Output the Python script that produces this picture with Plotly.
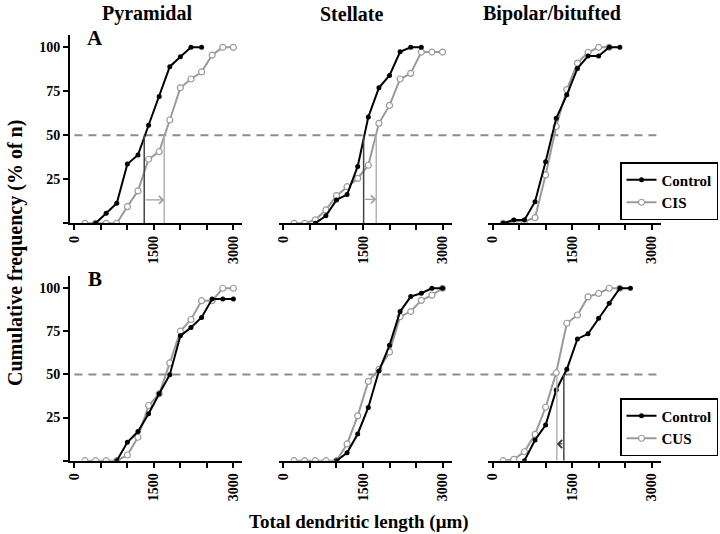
import plotly.graph_objects as go

# ---------------- data ----------------
col_titles = ["Pyramidal", "Stellate", "Bipolar/bitufted"]
row_labels = ["A", "B"]
legend_names_A = ["Control", "CIS"]
legend_names_B = ["Control", "CUS"]

# Panel A (Control vs CIS)
A_pyr_ctrl_x = [400, 600, 800, 1000, 1200, 1400, 1600, 1800, 2000, 2200, 2400]
A_pyr_ctrl_y = [0, 5.7, 11.4, 33.7, 38.8, 55.7, 72, 89, 94.7, 100, 100]
A_pyr_cis_x = [200, 400, 600, 800, 1000, 1200, 1400, 1600, 1800, 2000, 2200, 2400, 2600, 2800, 3000]
A_pyr_cis_y = [0, 0, 0, 0, 9.5, 18.4, 36.4, 40.7, 58.7, 77, 82, 86, 95.6, 100, 100]

A_ste_ctrl_x = [600, 800, 1000, 1200, 1400, 1600, 1800, 2000, 2200, 2400, 2600]
A_ste_ctrl_y = [0, 4.3, 13.3, 16.3, 32.3, 60.4, 77, 84, 97.5, 100, 100]
A_ste_cis_x = [200, 400, 600, 800, 1000, 1200, 1400, 1600, 1800, 2000, 2200, 2400, 2600, 2800, 3000]
A_ste_cis_y = [0, 0, 2, 7.6, 15.7, 20.8, 25.5, 33, 56.8, 67, 82, 85.2, 97.3, 97.3, 97.3]

A_bip_ctrl_x = [200, 400, 600, 800, 1000, 1200, 1400, 1600, 1800, 2000, 2200, 2400]
A_bip_ctrl_y = [0, 1.9, 1.9, 12.3, 35, 59.7, 73, 88, 95, 95, 100, 100]
A_bip_cis_x = [200, 400, 600, 800, 1000, 1200, 1400, 1600, 1800, 2000, 2200]
A_bip_cis_y = [0, 1.1, 1.1, 3.2, 27.5, 55, 76, 91, 97.2, 100, 100]

# Panel B (Control vs CUS)
B_pyr_ctrl_x = [800, 1000, 1200, 1400, 1600, 1800, 2000, 2200, 2400, 2600, 2800, 3000]
B_pyr_ctrl_y = [0, 10.7, 16.9, 27.2, 38.8, 49.9, 72.4, 77.3, 83.1, 93.8, 93.8, 93.8]
B_pyr_cus_x = [200, 400, 600, 800, 1000, 1200, 1400, 1600, 1800, 2000, 2200, 2400, 2600, 2800, 3000]
B_pyr_cus_y = [0, 0, 0, 0, 3.3, 13.6, 32, 38.8, 56.7, 75.1, 81.9, 92.8, 92.8, 100, 100]

B_ste_ctrl_x = [1000, 1200, 1400, 1600, 1800, 2000, 2200, 2400, 2600, 2800, 3000]
B_ste_ctrl_y = [0, 4.6, 15.5, 30.9, 52, 66.9, 86.5, 95.2, 97.1, 100, 100]
B_ste_cus_x = [200, 400, 600, 800, 1000, 1200, 1400, 1600, 1800, 2000, 2200, 2400, 2600, 2800, 3000]
B_ste_cus_y = [0, 0, 0, 0, 0, 9.7, 26, 46, 53, 63, 83.5, 86.5, 93, 96, 100]

B_bip_ctrl_x = [600, 800, 1000, 1200, 1400, 1600, 1800, 2000, 2200, 2400, 2600]
B_bip_ctrl_y = [0, 12, 20.7, 41, 53, 70.6, 73.6, 82.6, 91.3, 100, 100]
B_bip_cus_x = [200, 400, 600, 800, 1000, 1200, 1400, 1600, 1800, 2000, 2200, 2400]
B_bip_cus_y = [0, 0.8, 5.2, 15.3, 31, 51, 79.7, 84.5, 95, 97, 100, 100]

# median markers (x of 50% crossing) and arrow heights
median_panels = ["A_pyr", "A_ste", "B_bip"]
median_ctrl = [1318, 1512, 1344]
median_trt = [1695, 1750, 1212]
arrow_y = [13.3, 13.6, 9.7]

x_tickvals = [0, 500, 1000, 1500, 2000, 2500, 3000]
x_ticktext = ["0", "", "", "1500", "", "", "3000"]
y_tickvals = [0, 25, 50, 75, 100]
y_ticktext = ["", "25", "50", "75", "100"]
half_level = 50

# ---------------- figure ----------------
W, H = 720, 534
FONT = "Liberation Serif"
BLACK = "#000000"
GRAY = "#9a9a9a"

fig = go.Figure()

# axes geometry (pixels)
col_x = [(67.4, 240.4), (277.4, 450.4), (487.4, 660.4)]
row_y = [(35.0, 223.3), (276.2, 460.7)]  # top, bottom px
XR = [-80, 3170]
YR = [0, 107]

panels = [
    ("A", 0, 0, A_pyr_ctrl_x, A_pyr_ctrl_y, A_pyr_cis_x, A_pyr_cis_y),
    ("A", 0, 1, A_ste_ctrl_x, A_ste_ctrl_y, A_ste_cis_x, A_ste_cis_y),
    ("A", 0, 2, A_bip_ctrl_x, A_bip_ctrl_y, A_bip_cis_x, A_bip_cis_y),
    ("B", 1, 0, B_pyr_ctrl_x, B_pyr_ctrl_y, B_pyr_cus_x, B_pyr_cus_y),
    ("B", 1, 1, B_ste_ctrl_x, B_ste_ctrl_y, B_ste_cus_x, B_ste_cus_y),
    ("B", 1, 2, B_bip_ctrl_x, B_bip_ctrl_y, B_bip_cus_x, B_bip_cus_y),
]
panel_keys = ["A_pyr", "A_ste", "A_bip", "B_pyr", "B_ste", "B_bip"]

layout = dict(
    width=W, height=H,
    margin=dict(l=0, r=0, t=0, b=0),
    paper_bgcolor="white", plot_bgcolor="white",
    font=dict(family=FONT, color="black"),
    shapes=[], annotations=[],
)

for i, (row_name, r, c, cx, cy, tx, ty) in enumerate(panels):
    n = i + 1
    xa = "x" if n == 1 else f"x{n}"
    ya = "y" if n == 1 else f"y{n}"
    xkey = "xaxis" if n == 1 else f"xaxis{n}"
    ykey = "yaxis" if n == 1 else f"yaxis{n}"
    x0, x1 = col_x[c]
    yt, yb = row_y[r]
    layout[xkey] = dict(
        domain=[x0 / W, x1 / W], anchor=ya, range=XR,
        showgrid=False, zeroline=False, showline=True, linecolor="black", linewidth=2,
        ticks="outside", ticklen=5, tickwidth=1.5, tickcolor="black",
        tickvals=x_tickvals, ticktext=x_ticktext, tickangle=-90,
        tickfont=dict(family=FONT, size=14, color="black", weight="bold"),
    )
    if c == 0:
        layout[ykey] = dict(
            domain=[1 - yb / H, 1 - yt / H], anchor=xa, range=YR,
            showgrid=False, zeroline=False, showline=True, linecolor="black", linewidth=2,
            ticks="outside", ticklen=5, tickwidth=1.5, tickcolor="black",
            tickvals=y_tickvals, ticktext=y_ticktext,
            tickfont=dict(family=FONT, size=14, color="black", weight="bold"),
        )
    else:
        layout[ykey] = dict(
            domain=[1 - yb / H, 1 - yt / H], anchor=xa, range=YR,
            showgrid=False, zeroline=False, showline=False, showticklabels=False, ticks="",
        )

    leg = "legend" if row_name == "A" else "legend2"
    names = legend_names_A if row_name == "A" else legend_names_B
    show = (c == 0)

    # treatment (gray, open)
    fig.add_trace(go.Scatter(
        x=tx, y=ty, xaxis=xa, yaxis=ya, mode="lines+markers", name=names[1],
        line=dict(color=GRAY, width=2),
        marker=dict(symbol="circle", size=6, color="white", line=dict(color=GRAY, width=1.2)),
        showlegend=show, legend=leg, legendrank=2,
    ))
    # control (black, filled)
    fig.add_trace(go.Scatter(
        x=cx, y=cy, xaxis=xa, yaxis=ya, mode="lines+markers", name=names[0],
        line=dict(color=BLACK, width=2),
        marker=dict(symbol="circle", size=5, color=BLACK),
        showlegend=show, legend=leg, legendrank=1,
    ))

    key = panel_keys[i]
    if key in median_panels:
        k = median_panels.index(key)
        fig.add_trace(go.Scatter(
            x=[median_ctrl[k], median_ctrl[k]], y=[0, half_level], xaxis=xa, yaxis=ya,
            mode="lines", line=dict(color="#444444", width=1.5), showlegend=False, hoverinfo="skip",
        ))
        fig.add_trace(go.Scatter(
            x=[median_trt[k], median_trt[k]], y=[0, half_level], xaxis=xa, yaxis=ya,
            mode="lines", line=dict(color="#b4b4b4", width=1.5), showlegend=False, hoverinfo="skip",
        ))
        layout["annotations"].append(dict(
            x=median_trt[k], y=arrow_y[k], ax=median_ctrl[k], ay=arrow_y[k],
            xref=xa, yref=ya, axref=xa, ayref=ya, text="", showarrow=True,
            arrowhead=4, arrowsize=1.2, arrowwidth=1.3,
            arrowcolor="#a0a0a0" if key != "B_bip" else "#333333",
        ))

# dashed 50% lines across each row
for r, ya in enumerate(["y", "y4"]):
    layout["shapes"].append(dict(
        type="line", xref="paper", yref=ya, x0=71.7 / W, x1=660 / W, y0=half_level, y1=half_level,
        line=dict(color="#8c8c8c", width=2, dash="8px,6px"), layer="below",
    ))

# column titles
for t, cxp in zip(col_titles, [145, 350, 551]):
    layout["annotations"].append(dict(
        text=t, x=cxp / W, y=1 - 14 / H, xref="paper", yref="paper", showarrow=False,
        font=dict(family=FONT, size=20, color="black", weight="bold"),
        xanchor="center", yanchor="middle",
    ))

# row labels
for t, yp in zip(row_labels, [38, 279]):
    layout["annotations"].append(dict(
        text=t, x=92 / W, y=1 - yp / H, xref="paper", yref="paper", showarrow=False,
        font=dict(family=FONT, size=21, color="black", weight="bold"),
        xanchor="center", yanchor="middle",
    ))

# axis titles
layout["annotations"].append(dict(
    text="Total dendritic length (μm)", x=357 / W, y=1 - 522 / H, xref="paper", yref="paper",
    showarrow=False, font=dict(family=FONT, size=19, color="black", weight="bold"),
    xanchor="center", yanchor="middle",
))
layout["annotations"].append(dict(
    text="Cumulative frequency (% of n)", x=13 / W, y=1 - 253 / H, xref="paper", yref="paper",
    showarrow=False, textangle=-90, font=dict(family=FONT, size=20, color="black", weight="bold"),
    xanchor="center", yanchor="middle",
))

legend_style = dict(
    xanchor="right", yanchor="top", bgcolor="white", bordercolor="black", borderwidth=1.5,
    font=dict(family=FONT, size=15, color="black", weight="bold"),
    itemwidth=30, tracegroupgap=0,
)
layout["legend"] = dict(x=718 / W, y=1 - 162 / H, **legend_style)
layout["legend2"] = dict(x=718 / W, y=1 - 398 / H, **legend_style)

fig.update_layout(**layout)
fig.write_html(
    "out.html",
    config={"displayModeBar": False},
    post_script="document.body.style.margin='0px';document.body.style.padding='0px';",
)
